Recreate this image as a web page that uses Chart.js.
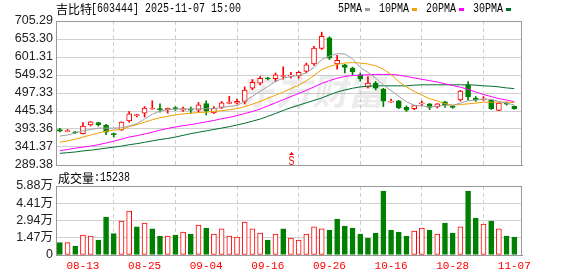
<!DOCTYPE html>
<html>
<head>
<meta charset="utf-8">
<script src="https://cdn.jsdelivr.net/npm/chart.js"></script>
<style>
html,body{margin:0;padding:0;background:#fff;}
#wrap{position:relative;width:578px;height:276px;overflow:hidden;}
#priceChart{position:absolute;left:0;top:0;}
#volChart{position:absolute;left:0;top:170px;}
</style>
</head>
<body>
<div id="wrap">
<canvas id="priceChart" width="578" height="180"></canvas>
<canvas id="volChart" width="578" height="106"></canvas>
</div>
<script>
// ===============================
// Data
// ===============================

const stockName='吉比特';
const stockCode='603444';
const stamp='2025-11-07 15:00';

const dates=[
'08-08','08-11','08-12','08-13','08-14','08-15','08-18','08-19','08-20','08-21',
'08-22','08-25','08-26','08-27','08-28','08-29','09-01','09-02','09-03','09-04',
'09-05','09-08','09-09','09-10','09-11','09-12','09-15','09-16','09-17','09-18',
'09-19','09-22','09-23','09-24','09-25','09-26','09-29','09-30','10-09','10-10',
'10-13','10-14','10-15','10-16','10-17','10-20','10-21','10-22','10-23','10-24',
'10-27','10-28','10-29','10-30','10-31','11-03','11-04','11-05','11-06','11-07'
];

// which dates get an axis label / dashed grid line
const labelIdx=[3,11,19,27,35,43,51,59];

const open=[
392,386,384,380,405,412,405,379,391,417,
432,439,451,452,449,455,448,451,448,467,
440,456,467,468,473,511,526,540,539,545,
546,547,560,581,626,657,581,579,569,550,
515,526,509,471,475,456,452,466,466,457,
472,459,477,520,483,477,476,447,468,459
];
const high=[
395,392,386,412,415,413,407,382,414,444,
436,458,475,466,454,458,457,457,470,475,
458,473,488,480,515,536,545,543,555,573,
557,560,584,632,673,660,606,580,572,555,
545,531,511,480,476,460,462,474,467,467,
473,461,505,530,487,487,478,469,471,460
];
const low=[
385,385,380,379,402,402,377,370,389,413,
428,428,450,442,439,447,444,439,442,434,
438,452,466,465,466,507,521,535,531,537,
540,540,555,577,623,594,566,555,550,531,
512,506,458,470,452,444,449,461,449,454,
456,453,474,476,473,476,450,446,462,450
];
const close=[
387,388,382,402,414,406,384,377,413,437,
435,454,452,449,453,451,452,448,463,446,
454,469,471,473,506,528,540,538,550,548,
549,557,579,627,661,598,592,571,558,538,
526,511,474,473,454,448,461,467,456,466,
463,456,503,486,477,480,452,468,465,452
];

const volume=[
10500,10500,7700,17000,16200,12800,32400,18200,29000,37500,
23900,27300,22200,16200,16200,17000,19600,17900,25600,23000,
17900,22200,16200,15300,28100,22200,18700,12800,17900,22200,
14500,12800,17900,23900,22200,21300,30700,24700,23000,17900,
14500,18700,54500,21300,19600,16200,20400,23000,21300,17900,
27300,18700,23900,54500,31500,26400,29000,22200,16200,15238
];

const ma5=[
373,376,382,388,392,396,396,396,397,402,
409,422,436,445,449,451,451,451,452,452,
452,455,459,461,473,488,502,516,531,540,
545,548,556,571,594,604,611,610,596,571,
557,540,521,504,488,472,462,460,457,459,
462,462,468,475,477,480,479,473,468,463
];
const ma10=[
355,359,364,370,376,382,387,390,392,400,
406,413,420,426,430,434,437,439,441,442,
444,446,449,452,458,465,473,482,491,500,
510,520,532,548,565,574,580,584,585,584,
581,576,566,551,530,515,502,491,481,474,
467,462,464,466,468,471,471,471,471,470
];
const ma20=[
331,334,338,341,344,348,353,358,364,370,
374,379,384,390,395,399,403,406,410,414,
418,423,427,432,438,444,451,460,469,478,
487,496,505,515,525,533,540,545,548,549,
550,551,551,551,549,545,541,537,533,529,
524,519,514,508,500,493,487,481,477,472
];
const ma30=[
323,325,327,330,332,335,338,341,344,348,
351,355,359,363,366,370,375,380,384,388,
392,396,400,405,410,416,422,430,438,447,
455,462,469,476,483,492,500,506,511,515,
517,518,518,518,518,518,520,521,521,521,
521,521,521,521,520,518,517,515,512,510
];

const maNames=['5PMA','10PMA','20PMA','30PMA'];
const maColors=['#a0a0a0','#f0a000','#ff00ff','#006f2e'];

const priceTicks=['289.38','341.37','393.36','445.34','497.33','549.32','601.31','653.30','705.29'];
const volTicks=['0','1.47万','2.94万','4.41万','5.88万'];

const signalIdx=30;

const RED='#ff0000';
const GREEN='#008000';

// ===============================
// Helpers
// ===============================

// squeeze ascii text to 6px a char, like the old bitmap font
function monoText(ctx,str,x,y){
ctx.font="12px 'Liberation Mono', monospace";
ctx.fillText(str,x,y,str.length*6);
}

const isUp=close.map((c,i)=>c>=open[i]);
const volUp=close.map((c,i)=>i===0?isUp[0]:c>close[i-1]);

const axisFont={family:"'Liberation Sans', 'Noto Sans CJK SC', sans-serif",size:12.5};

function xAxis(showLabels){
return {
type:'linear',
min:-0.5,
max:dates.length,
offset:false,
afterBuildTicks:s=>{s.ticks=labelIdx.map(v=>({value:v}));},
grid:{color:'#d0d0d0',drawTicks:false},
border:{color:'#999',dash:[4,3]},
ticks:{
display:showLabels,
autoSkip:false,
maxRotation:0,
padding:4,
color:RED,
font:{family:"'Liberation Mono', monospace",size:11},
callback:v=>dates[v]
},
afterFit:s=>{s.height=showLabels?21:0;}
};
}

function frame(ctx,a){
ctx.strokeStyle='#999';
ctx.lineWidth=1;
ctx.strokeRect(Math.round(a.left)+0.5,Math.round(a.top)+0.5,Math.round(a.right-a.left)-1,Math.round(a.bottom-a.top));
}

// ===============================
// Price panel (candles + MA)
// ===============================

const pricePlugin={
id:'priceDecor',
beforeDatasetsDraw(chart){
const ctx=chart.ctx;
ctx.save();
ctx.fillStyle='rgba(120,120,120,0.14)';
ctx.font="bold 36px 'Noto Sans CJK SC'";
ctx.textBaseline='alphabetic';
ctx.setTransform(1,0,-0.2,1,0.2*105,0);
ctx.fillText('东方财富',240,105);
ctx.restore();
},
afterDraw(chart){
const {ctx,chartArea:a,scales}=chart;
ctx.save();
frame(ctx,a);

// title
ctx.fillStyle='#000';
ctx.textBaseline='middle';
ctx.font="12px 'Noto Sans CJK SC'";
ctx.fillText(stockName,56,9);
monoText(ctx,'['+stockCode+'] '+stamp,91,9);

// legend
let lx=338;
maNames.forEach((n,k)=>{
ctx.fillStyle='#000';
monoText(ctx,n,lx,9);
lx+=n.length*6+3;
ctx.fillStyle=maColors[k];
ctx.fillRect(lx,8,5,3);
lx+=5+9;
});

// S signal
const sx=Math.round(scales.x.getPixelForValue(signalIdx));
ctx.fillStyle=RED;
ctx.beginPath();
ctx.moveTo(sx+0.5,152);
ctx.lineTo(sx+3,155);
ctx.lineTo(sx-2,155);
ctx.closePath();
ctx.fill();
ctx.font="12px 'Liberation Sans'";
ctx.textAlign='center';
ctx.textBaseline='alphabetic';
ctx.fillText('S',sx+0.5,164.5,6);
ctx.restore();
}
};

const priceCtx=document.getElementById('priceChart');

new Chart(priceCtx,{
type:'bar',
data:{
datasets:[
...maNames.map((n,k)=>({
type:'line',
label:n,
data:[ma5,ma10,ma20,ma30][k].map((v,i)=>({x:i,y:v})),
borderColor:maColors[k],
borderWidth:1,
pointRadius:0,
tension:0,
order:0
})),
{
label:'body',
data:dates.map((d,i)=>({x:i,y:[open[i],close[i]]})),
backgroundColor:isUp.map(u=>u?'#fff':GREEN),
borderColor:isUp.map(u=>u?RED:GREEN),
borderWidth:1,
borderSkipped:false,
barThickness:5,
minBarLength:1,
grouped:false,
order:1
},
{
label:'wick',
data:dates.map((d,i)=>({x:i,y:[low[i],high[i]]})),
backgroundColor:isUp.map(u=>u?RED:GREEN),
borderWidth:0,
barThickness:1,
grouped:false,
order:2
}
]
},
options:{
responsive:false,
animation:false,
events:[],
layout:{padding:{top:21,right:56,bottom:15,left:0}},
plugins:{legend:{display:false},tooltip:{enabled:false}},
scales:{
x:xAxis(false),
y:{
min:parseFloat(priceTicks[0]),
max:parseFloat(priceTicks[priceTicks.length-1]),
afterBuildTicks:s=>{s.ticks=priceTicks.map(t=>({value:parseFloat(t)}));},
grid:{color:'#d0d0d0',drawTicks:false},
border:{color:'#999'},
ticks:{color:'#222',font:axisFont,padding:3,autoSkip:false,callback:(v,i)=>priceTicks[i]},
afterFit:s=>{s.width=56;}
}
}
},
plugins:[pricePlugin]
});

// ===============================
// Volume panel
// ===============================

const volPlugin={
id:'volDecor',
afterDraw(chart){
const {ctx,chartArea:a}=chart;
ctx.save();
frame(ctx,a);
ctx.fillStyle='#000';
ctx.textBaseline='middle';
ctx.font="12px 'Noto Sans CJK SC'";
ctx.fillText('成交量',58,8);
monoText(ctx,':'+volume[volume.length-1],94,8);
ctx.restore();
}
};

const volCtx=document.getElementById('volChart');

new Chart(volCtx,{
type:'bar',
data:{
datasets:[{
label:'成交量',
data:volume.map((v,i)=>({x:i,y:v})),
backgroundColor:volUp.map(u=>u?'#fff':GREEN),
borderColor:volUp.map(u=>u?RED:GREEN),
borderWidth:1,
borderSkipped:false,
barThickness:5,
grouped:false
}]
},
options:{
responsive:false,
animation:false,
events:[],
layout:{padding:{top:16,right:56,bottom:0,left:0}},
plugins:{legend:{display:false},tooltip:{enabled:false}},
scales:{
x:xAxis(true),
y:{
min:0,
max:parseFloat(volTicks[volTicks.length-1])*10000,
afterBuildTicks:s=>{s.ticks=volTicks.map(t=>({value:parseFloat(t)*10000}));},
grid:{color:'#d0d0d0',drawTicks:false},
border:{color:'#999'},
ticks:{color:'#222',font:axisFont,padding:3,autoSkip:false,callback:(v,i)=>volTicks[i]},
afterFit:s=>{s.width=56;}
}
}
},
plugins:[volPlugin]
});
</script>
</body>
</html>
